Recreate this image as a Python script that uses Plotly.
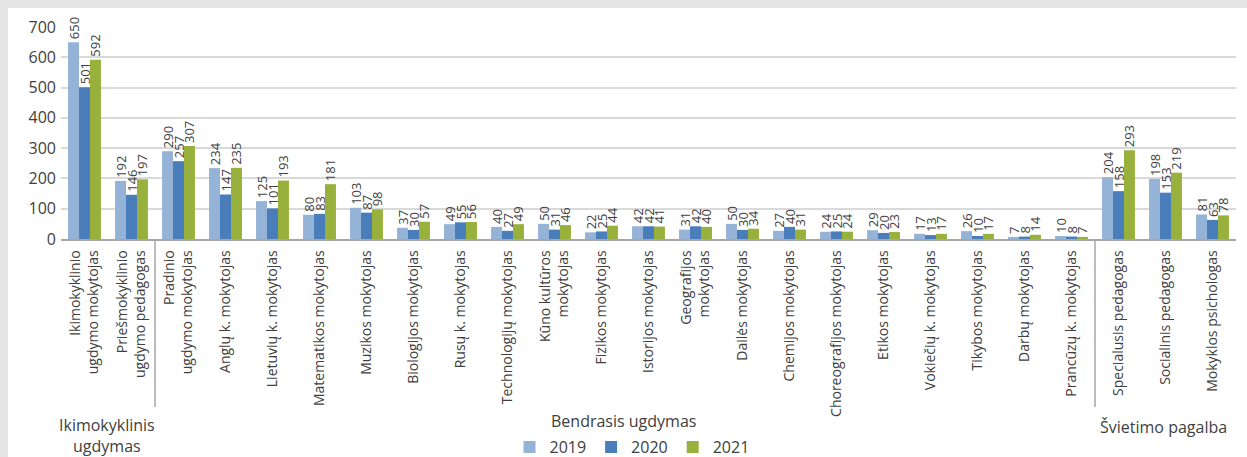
import plotly.graph_objects as go

categories = [
    "Ikimokyklinio<br>ugdymo mokytojas",
    "Priešmokyklinio<br>ugdymo pedagogas",
    "Pradinio<br>ugdymo mokytojas",
    "Anglų k. mokytojas",
    "Lietuvių k. mokytojas",
    "Matematikos mokytojas",
    "Muzikos mokytojas",
    "Biologijos mokytojas",
    "Rusų k. mokytojas",
    "Technologijų mokytojas",
    "Kūno kultūros<br>mokytojas",
    "Fizikos mokytojas",
    "Istorijos mokytojas",
    "Geografijos<br>mokytojas",
    "Dailės mokytojas",
    "Chemijos mokytojas",
    "Choreografijos mokytojas",
    "Etikos mokytojas",
    "Vokiečių k. mokytojas",
    "Tikybos mokytojas",
    "Darbų mokytojas",
    "Prancūzų k. mokytojas",
    "Specialusis pedagogas",
    "Socialinis pedagogas",
    "Mokyklos psichologas",
]

values_2019 = [650, 192, 290, 234, 125, 80, 103, 37, 49, 40, 50, 22, 42, 31, 50, 27, 24, 29, 17, 26, 7, 10, 204, 198, 81]
values_2020 = [501, 146, 257, 147, 101, 83, 87, 30, 55, 27, 31, 25, 42, 42, 30, 40, 25, 20, 13, 10, 8, 8, 158, 153, 63]
values_2021 = [592, 197, 307, 235, 193, 181, 98, 57, 56, 49, 46, 44, 41, 40, 34, 31, 24, 23, 17, 17, 14, 7, 293, 219, 78]

series_names = ["2019", "2020", "2021"]
series_colors = ["#95B3D7", "#4A7EBB", "#98B13C"]

group_labels = ["Ikimokyklinis<br>ugdymas", "Bendrasis ugdymas", "Švietimo pagalba"]

FONT = "Open Sans"
TXT = "#404040"
FRAME = "#E5E5E5"

# figure fills the whole window (page body margin removed in post_script)
W, H = 1247, 457
PLOT_L, PLOT_R, PLOT_T, PLOT_B = 61, 1236, 27, 239   # pixels
ML, MR, MT, MB = PLOT_L, W - PLOT_R, PLOT_T, H - PLOT_B
PW = W - ML - MR
PH = H - MT - MB


def px_x(px):
    return (px - PLOT_L) / PW


def px_y(py):
    return (PLOT_B - py) / PH


fig = go.Figure()
for name, vals, col in zip(series_names, [values_2019, values_2020, values_2021], series_colors):
    fig.add_trace(go.Bar(
        name=name,
        x=categories,
        y=vals,
        marker=dict(color=col, line=dict(width=0)),
        text=[str(v) for v in vals],
        textposition="outside",
        textangle=-90,
        textfont=dict(family=FONT, size=13, color=TXT),
        constraintext="none",
        cliponaxis=False,
    ))

shapes = []
for xv in [1.5, 21.5]:
    shapes.append(dict(type="line", xref="x", yref="paper", x0=xv, x1=xv,
                       y0=0, y1=px_y(407), line=dict(color="#A6A6A6", width=1.5)))
# light-gray frame strips on the top and left edges
shapes.append(dict(type="rect", xref="paper", yref="paper", x0=px_x(-2), x1=px_x(8),
                   y0=px_y(H + 2), y1=px_y(-2), fillcolor=FRAME, line=dict(width=0)))
shapes.append(dict(type="rect", xref="paper", yref="paper", x0=px_x(-2), x1=px_x(W + 2),
                   y0=px_y(8), y1=px_y(-2), fillcolor=FRAME, line=dict(width=0)))

annotations = [
    dict(text=group_labels[0], x=px_x(107), y=px_y(436), xref="paper", yref="paper",
         showarrow=False, xanchor="center", yanchor="middle",
         font=dict(family=FONT, size=16, color=TXT)),
    dict(text=group_labels[1], x=px_x(623), y=px_y(421), xref="paper", yref="paper",
         showarrow=False, xanchor="center", yanchor="middle",
         font=dict(family=FONT, size=16, color=TXT)),
    dict(text=group_labels[2], x=px_x(1163), y=px_y(427), xref="paper", yref="paper",
         showarrow=False, xanchor="center", yanchor="middle",
         font=dict(family=FONT, size=16, color=TXT)),
]

fig.update_layout(
    width=W, height=H,
    margin=dict(l=ML, r=MR, t=MT, b=MB, autoexpand=False),
    paper_bgcolor="white",
    plot_bgcolor="white",
    barmode="group",
    bargap=0.3,
    bargroupgap=0,
    font=dict(family=FONT, color=TXT),
    shapes=shapes,
    annotations=annotations,
    legend=dict(orientation="h", x=px_x(632), xanchor="center", y=px_y(447), yanchor="middle",
                font=dict(family=FONT, size=16, color=TXT), traceorder="normal",
                bgcolor="rgba(0,0,0,0)"),
    xaxis=dict(
        tickangle=-90,
        tickfont=dict(family=FONT, size=14, color=TXT),
        showline=True, linecolor="#A6A6A6", linewidth=1.5,
        showgrid=False, ticks="", ticklabelstandoff=4,
    ),
    yaxis=dict(
        range=[0, 700],
        tickvals=[0, 100, 200, 300, 400, 500, 600, 700],
        tickfont=dict(family=FONT, size=16, color=TXT),
        showgrid=True, gridcolor="#D9D9D9", gridwidth=2,
        zeroline=False, showline=False, ticks="", ticklabelstandoff=4,
    ),
)

fig.write_html(
    "out.html",
    config={"displayModeBar": False},
    post_script=(
        "document.body.style.margin='0';"
        "document.body.style.background='white';"
        "document.documentElement.style.overflow='hidden';"
    ),
)
